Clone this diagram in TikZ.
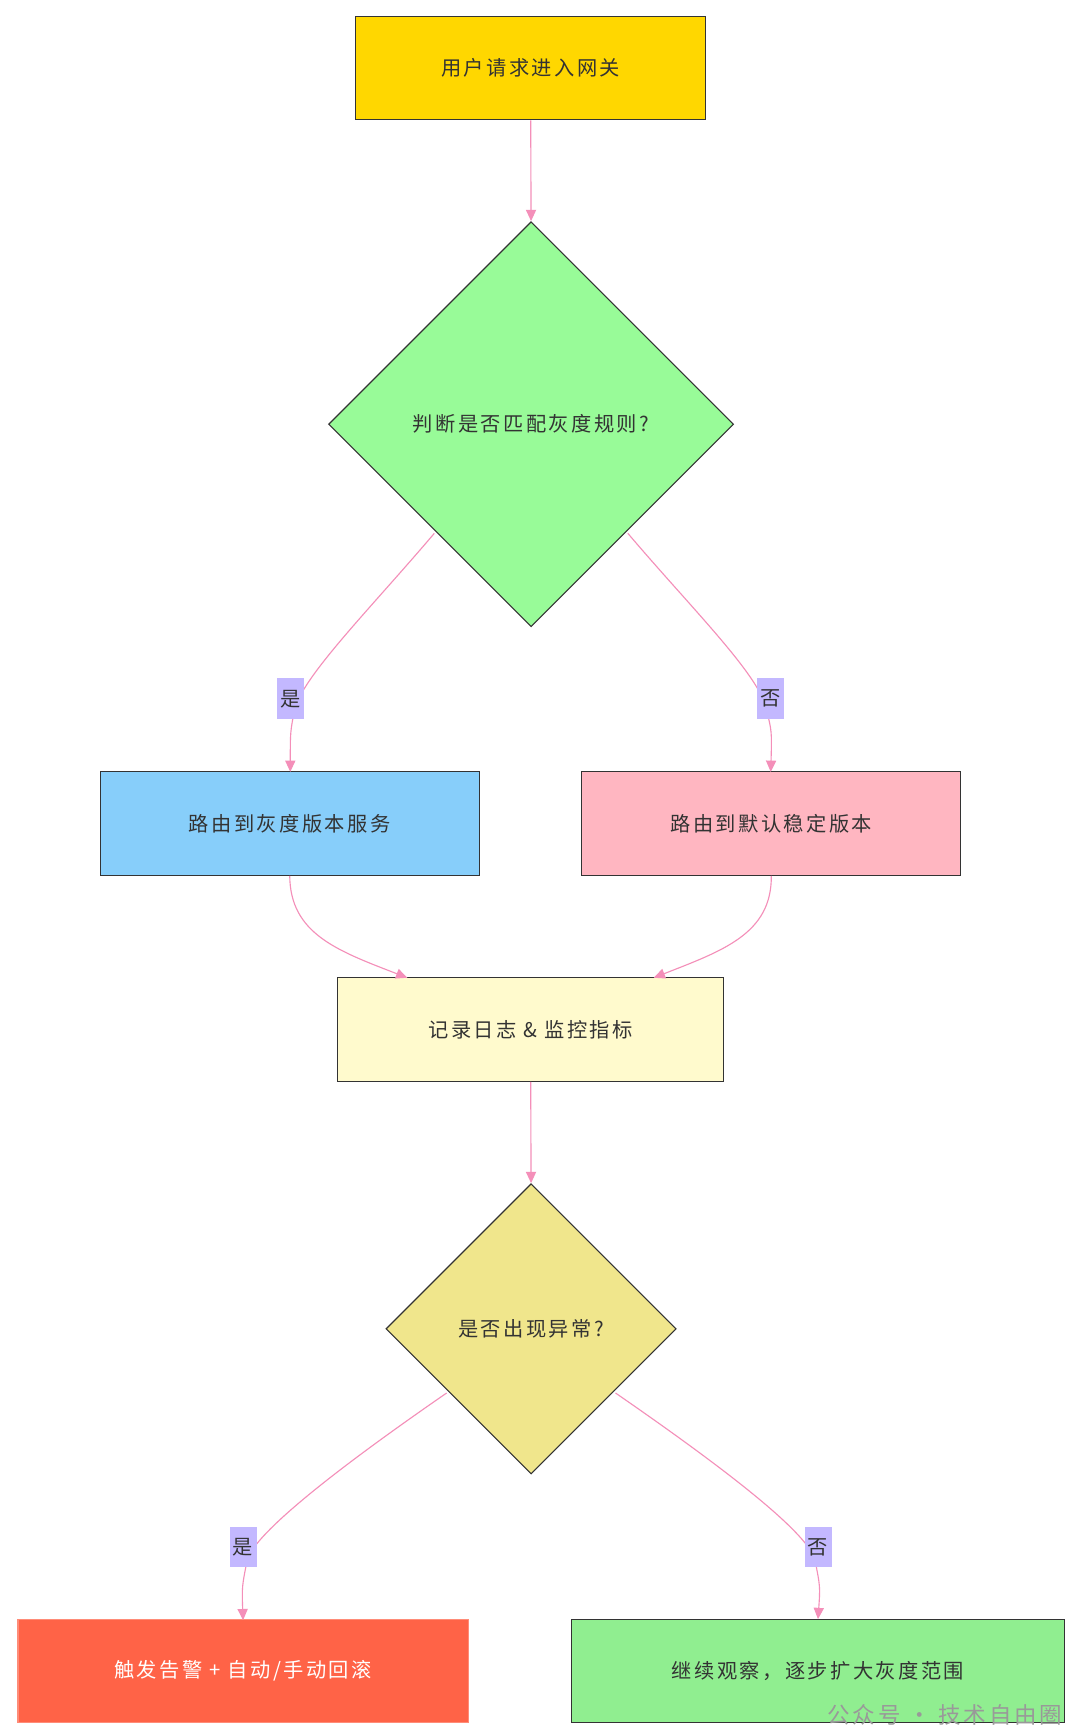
\documentclass[tikz,border=0pt]{standalone}
\usepackage{fontspec}
\setmainfont{Noto Sans CJK SC}[LetterSpace=12]
\usetikzlibrary{shapes.geometric,arrows.meta}
\definecolor{edge}{HTML}{F48FB9}
\definecolor{lab}{HTML}{C3B8FF}
\begin{document}
\begin{tikzpicture}[x=1pt,y=-1pt,
 box/.style={draw=black!80,line width=1pt,minimum width=#1,minimum height=92pt,inner sep=0pt,font=\fontsize{18}{21}\selectfont,text=black!80},
 dia/.style={diamond,draw=black!80,line width=1pt,minimum width=#1,minimum height=#1,inner sep=0pt,font=\fontsize{18}{21}\selectfont,text=black!80,aspect=1},
 lb/.style={fill=lab,inner sep=1pt,minimum height=36pt,minimum width=24pt,font=\fontsize{18}{21}\selectfont,text=black!80},
 ar/.style={draw=edge,line width=1pt,-{Triangle[length=10pt,width=9pt]}}]
\useasboundingbox[fill=white] (0,0) rectangle (960,1542);
\node[box=311pt,fill={rgb,255:red,255;green,215;blue,0}] (s) at (471.5,60.5) {用户请求进入网关};
\node[dia=360pt,fill={rgb,255:red,152;green,251;blue,152}] (d1) at (472,377) {判断是否匹配灰度规则?};
\node[box=337pt,fill={rgb,255:red,135;green,206;blue,250}] (b) at (257.5,732) {路由到灰度版本服务};
\node[box=337pt,fill={rgb,255:red,255;green,182;blue,193}] (p) at (685.5,732) {路由到默认稳定版本};
\node[box=343pt,fill={rgb,255:red,255;green,250;blue,205}] (l) at (471.5,915) {记录日志 \& 监控指标};
\node[dia=258pt,fill={rgb,255:red,240;green,230;blue,140}] (d2) at (472,1181) {是否出现异常?};
\node[box=400pt,draw={rgb,255:red,255;green,140;blue,120},fill={rgb,255:red,255;green,99;blue,71},text=white] (r) at (216,1485) {触发告警 + 自动/手动回滚};
\node[box=438pt,fill={rgb,255:red,144;green,238;blue,144}] (g) at (727,1485) {继续观察，逐步扩大灰度范围};
\coordinate (y1) at (258,686); \coordinate (n1) at (685,686);
\coordinate (y2) at (216,1440); \coordinate (n2) at (727,1439);
\draw[ar] (s) -- (d1.north);
\draw[ar] (386,474) .. controls (330,540) and (270,600) .. (262,630) .. controls (258,650) .. (y1);
\draw[ar] (558,474) .. controls (614,540) and (675,600) .. (681,630) .. controls (686,650) .. (n1);
\draw[ar] (b.south) .. controls (258,830) and (300,845) .. (362,869);
\draw[ar] (p.south) .. controls (686,830) and (642,845) .. (581,869);
\draw[ar] (l) -- (d2.north);
\draw[ar] (397,1238) .. controls (300,1305) and (230,1360) .. (220,1385) .. controls (215,1410) .. (y2);
\draw[ar] (547,1238) .. controls (644,1305) and (715,1360) .. (724,1385) .. controls (729,1410) .. (n2);
\node[lb] (ly1) at (258,621) {是};
\node[lb] (ln1) at (685,621) {否};
\node[lb] (ly2) at (216,1375) {是};
\node[lb] (ln2) at (727,1375) {否};
\node[text=black!40,font=\fontsize{20}{24}\selectfont,anchor=east,inner sep=0pt] (wm) at (944,1524) {公众号 · 技术自由圈};
\end{tikzpicture}
\end{document}
